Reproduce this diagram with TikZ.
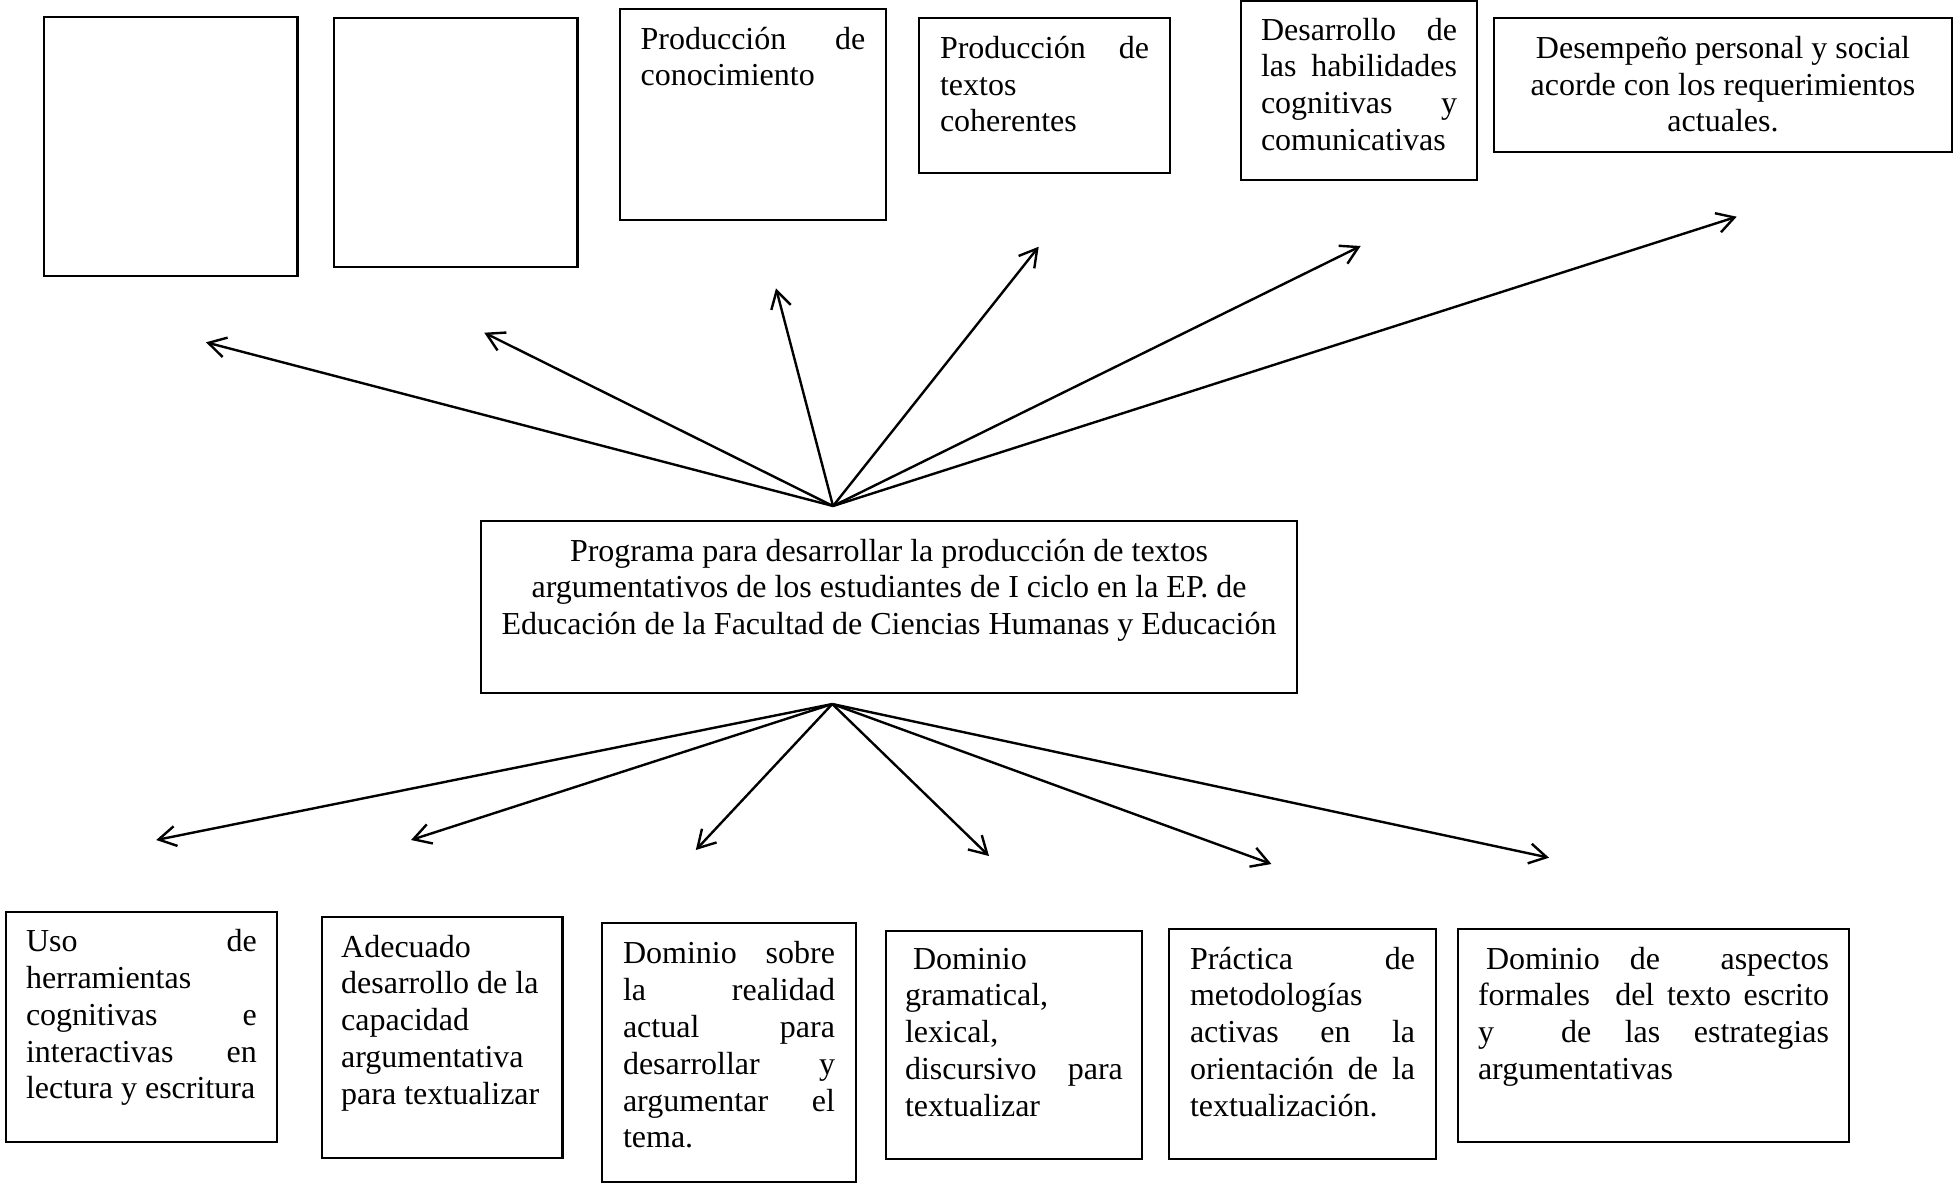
\documentclass[tikz,border=0pt]{standalone}
\usepackage{fontspec}
\setmainfont{Liberation Serif}
\usetikzlibrary{arrows.meta}
\newcommand{\cajatexto}[3]{\parbox[t][#2][t]{#1}{\strut #3}}

\begin{document}
\begin{tikzpicture}[x=0.375pt,y=-0.375pt,
  caja/.style={draw,line width=0.8pt,anchor=north west,outer sep=0pt,
    font=\fontsize{12pt}{13.8pt}\selectfont},
  flecha/.style={line width=0.9pt,-{Straight Barb[length=6.5pt,width=7.5pt]}}]
  \useasboundingbox (0,0) rectangle (1954,1183);
  % cajas de arriba
  \node[caja,inner sep=0pt,minimum width=95.06pt,minimum height=97pt] (t1) at (44,17.3) {};
  \node[caja,inner sep=0pt,minimum width=91.3pt,minimum height=93.15pt] (t2) at (334,18.3) {};
  \node[caja,inner xsep=7.73pt,inner ysep=5.23pt] (t3) at (620,9.3)
  {\cajatexto{84.3pt}{68.55pt}{Producción \hfill de\\ conocimiento}};
  \node[caja,inner xsep=7.88pt,inner ysep=5.34pt] (t4) at (919,18.3)
  {\cajatexto{78.4pt}{47.4pt}{Producción \hfill de\\ textos\\ coherentes}};
  \node[caja,inner xsep=7.65pt,inner ysep=5.08pt] (t5) at (1240.6,0.7)
  {\cajatexto{73.5pt}{57.1pt}{Desarrollo \hfill de\\ las \hfill habilidades\\
  cognitivas \hfill y\\ comunicativas}};
  \node[caja,inner xsep=7.7pt,inner ysep=5.34pt] (t6) at (1494,18.3)
  {\cajatexto{156.35pt}{39.35pt}{\centering Desempeño personal y social\\
  acorde con los requerimientos\\ actuales.}};
  % programa
  \node[caja,inner xsep=3pt,inner ysep=5.45pt] (prog) at (481,520.7)
  {\cajatexto{300pt}{53.6pt}{\centering Programa para desarrollar la producción de textos\\
  argumentativos de los estudiantes de I ciclo en la EP. de\\
  Educación de la Facultad de Ciencias Humanas y Educación}};
  % cajas de abajo
  \node[caja,inner xsep=7.5pt,inner ysep=5.34pt] (b1) at (6,911.7)
  {\cajatexto{86.6pt}{75.57pt}{Uso \hfill de\\ herramientas\\ cognitivas \hfill e\\
  interactivas \hfill en\\ lectura y escritura}};
  \node[caja,inner xsep=7.2pt,inner ysep=5.34pt] (b2) at (322,917)
  {\cajatexto{75.8pt}{79.7pt}{Adecuado\\ desarrollo de la\\ capacidad\\ argumentativa\\
  para textualizar}};
  \node[caja,inner xsep=7.875pt,inner ysep=5.7pt] (b3) at (602,923)
  {\cajatexto{79.5pt}{85.8pt}{Dominio \hfill sobre\\ la \hfill realidad\\ actual \hfill para\\
  desarrollar \hfill y\\ argumentar \hfill el\\ tema.}};
  \node[caja,inner xsep=7.3pt,inner ysep=4.7pt] (b4) at (885.6,930.7)
  {\cajatexto{81.7pt}{76.2pt}{\ Dominio\\ gramatical,\\ lexical,\\ discursivo \hfill para\\
  textualizar}};
  \node[caja,inner xsep=7.875pt,inner ysep=5.34pt] (b5) at (1169,929)
  {\cajatexto{84.4pt}{75.57pt}{Práctica \hfill de\\ metodologías\\ activas \hfill en \hfill la\\
  orientación \hfill de \hfill la\\ textualización.}};
  \node[caja,inner xsep=7.5pt,inner ysep=5.34pt] (b6) at (1458,929)
  {\cajatexto{131.6pt}{69.1pt}{\ Dominio \hfill de \hfill\ \hfill aspectos\\
  formales \hfill\ \hfill del \hfill texto \hfill escrito\\
  y \hfill\ \hfill de \hfill las \hfill estrategias\\ argumentativas}};
  % puntas de flecha
  \coordinate (hubsup) at (833,506);
  \coordinate (hubinf) at (832.3,704);
  \coordinate (ts1) at (206,342.3);
  \coordinate (ts2) at (484.3,332.7);
  \coordinate (ts3) at (776,288.3);
  \coordinate (ts4) at (1038.7,246.7);
  \coordinate (ts5) at (1360.7,246);
  \coordinate (ts6) at (1736.7,216.7);
  \coordinate (ti1) at (156.2,840);
  \coordinate (ti2) at (411,840);
  \coordinate (ti3) at (695.8,850);
  \coordinate (ti4) at (989,856);
  \coordinate (ti5) at (1271.4,864);
  \coordinate (ti6) at (1549,857.7);
  \draw[flecha] (hubsup) -- (ts1);
  \draw[flecha] (hubsup) -- (ts2);
  \draw[flecha] (hubsup) -- (ts3);
  \draw[flecha] (hubsup) -- (ts4);
  \draw[flecha] (hubsup) -- (ts5);
  \draw[flecha] (hubsup) -- (ts6);
  \draw[flecha] (hubinf) -- (ti1);
  \draw[flecha] (hubinf) -- (ti2);
  \draw[flecha] (hubinf) -- (ti3);
  \draw[flecha] (hubinf) -- (ti4);
  \draw[flecha] (hubinf) -- (ti5);
  \draw[flecha] (hubinf) -- (ti6);
\end{tikzpicture}
\end{document}
